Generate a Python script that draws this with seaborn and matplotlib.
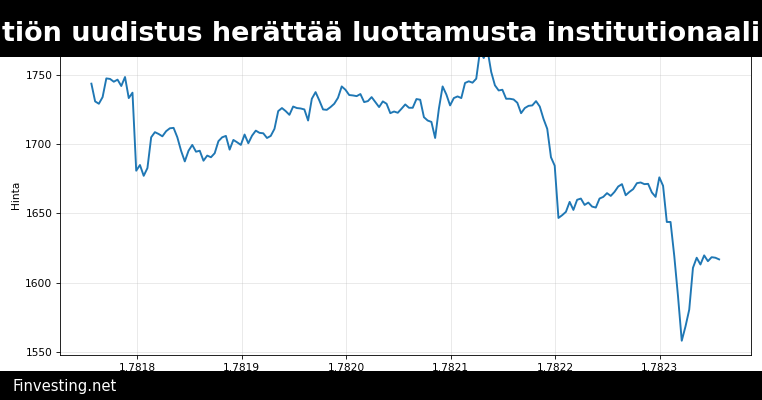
import numpy as np
import pandas as pd
import matplotlib
matplotlib.use("Agg")
import matplotlib.pyplot as plt
import seaborn as sns
from matplotlib.patches import Rectangle

# ---- data ----
title_text = "tiön uudistus herättää luottamusta institutionaali"
footer_text = "Finvesting.net"
y_label = "Hinta"

t_start = 1781756300      # unix seconds of first sample
t_step = 3575             # seconds between samples

price_part1 = [1743.5, 1730.7, 1729.0, 1733.8, 1747.3, 1746.9, 1744.9, 1746.4, 1741.8, 1748.3,
               1733.1, 1737.0, 1680.7, 1684.8, 1677.0, 1682.6, 1704.8, 1708.5, 1707.2, 1705.5,
               1709.2, 1711.3, 1711.6, 1704.8, 1695.1, 1687.4, 1695.1, 1699.3, 1694.4, 1695.1,
               1687.9, 1691.6, 1690.4, 1693.3, 1702.0, 1704.8, 1705.8, 1695.9, 1702.9, 1701.2,
               1699.3, 1706.8]
price_part2 = [1700.5, 1706.0, 1709.6, 1708.0, 1707.7, 1704.3, 1705.8, 1710.9, 1723.7, 1725.9,
               1723.7, 1721.0, 1727.0, 1725.9, 1725.6, 1724.9, 1716.9, 1732.6, 1737.4, 1731.4,
               1724.9, 1724.6, 1726.6, 1729.0, 1733.3, 1741.5, 1739.1, 1735.3, 1735.0, 1734.5,
               1736.0, 1730.2, 1730.9, 1733.8, 1730.2, 1726.6, 1730.7, 1729.0, 1722.2, 1723.4,
               1722.5]
price_part3 = [1725.4, 1728.5, 1726.1, 1726.1, 1732.4, 1731.9, 1719.3, 1716.9, 1715.9, 1704.3,
               1725.4, 1741.5, 1735.7, 1727.8, 1733.1, 1734.3, 1733.1, 1744.0, 1745.2, 1744.2,
               1747.1, 1767.0, 1762.0, 1768.0, 1752.0, 1742.3, 1738.6, 1739.1, 1732.6, 1732.6,
               1732.1, 1729.7, 1722.2, 1725.9, 1727.5, 1727.8, 1730.9, 1727.0, 1718.1, 1710.9,
               1690.4, 1684.3]
price_part4 = [1646.6, 1648.6, 1651.0, 1658.2, 1652.4, 1659.7, 1660.6, 1656.0, 1657.7, 1654.8,
               1654.1, 1660.6, 1661.8, 1664.5, 1662.5, 1665.4, 1669.3, 1671.0, 1663.0, 1665.4,
               1667.4, 1671.7, 1672.2, 1671.0, 1671.2, 1665.0, 1661.8, 1675.9, 1669.8, 1643.7,
               1643.7, 1619.1, 1590.1, 1558.0, 1568.3, 1580.4, 1610.6, 1617.9, 1613.0, 1619.6,
               1615.4, 1618.3, 1617.9, 1616.7]

prices = price_part1 + price_part2 + price_part3 + price_part4
times = t_start + t_step * np.arange(len(prices))
df = pd.DataFrame({"aika": times, "hinta": prices})

# ---- figure ----
W, H = 762, 400
fig = plt.figure(figsize=(10, 5.25), dpi=76.2)
ax = fig.add_axes([60 / W, 1 - 355.3 / H, (750.5 - 60) / W, (355.3 - 35.2) / H])

sns.lineplot(data=df, x="aika", y="hinta", ax=ax, color="#1f77b4", linewidth=1.8)
ax.grid(True, alpha=0.3)
ax.set_xlabel("")
ax.set_ylabel(y_label)
ax.ticklabel_format(axis="x", useOffset=False)
ax.set_yticks([1550, 1600, 1650, 1700, 1750])

# black bands
fig.patches.append(Rectangle((0, 1 - 57 / H), 1, 57 / H, transform=fig.transFigure,
                             facecolor="black", edgecolor="none", zorder=10))
fig.patches.append(Rectangle((0, 0), 1, 29 / H, transform=fig.transFigure,
                             facecolor="black", edgecolor="none", zorder=10))

t = fig.text(0.5, 1 - 34 / H, title_text, ha="center", va="center", color="white",
             fontsize=26, fontweight="bold", zorder=11)
fig.canvas.draw()
w = t.get_window_extent().width
t.set_fontsize(26 * 758 / w)

fig.text(12 / W, 14 / H, footer_text, ha="left", va="center", color="white",
         fontsize=14, zorder=11)

fig.savefig("out.png", dpi=76.2)
